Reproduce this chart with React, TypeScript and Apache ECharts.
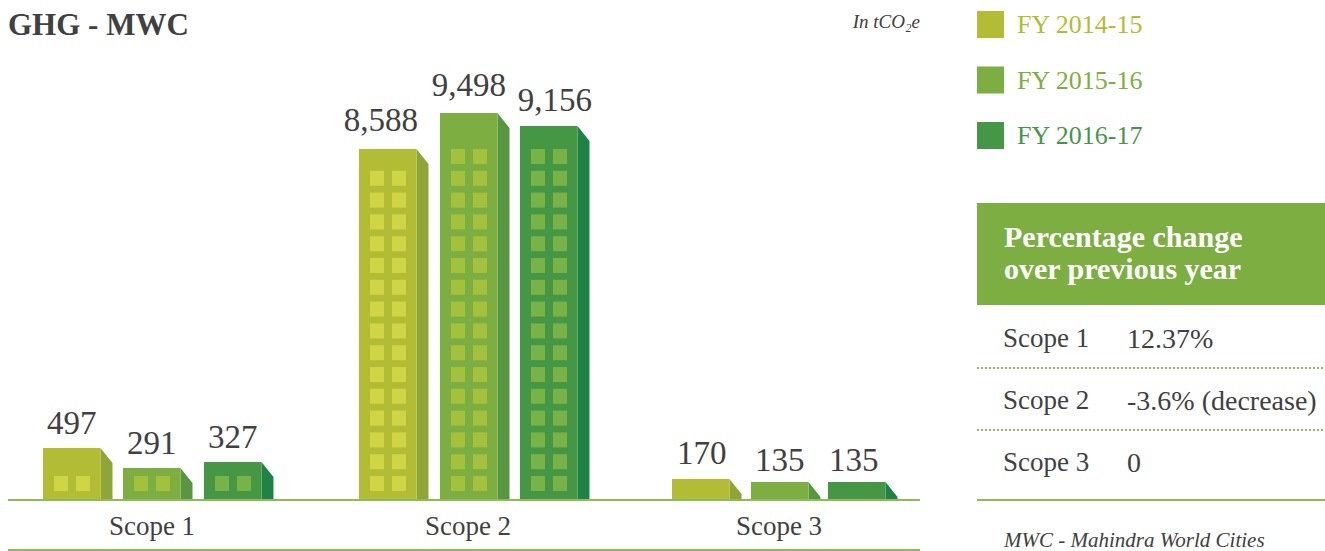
import React, { useEffect, useRef } from "react";
import * as echarts from "echarts";

const scopes = ["Scope 1", "Scope 2", "Scope 3"];
const years = ["FY 2014-15", "FY 2015-16", "FY 2016-17"];

// Printed values
const fy1415 = [497, 8588, 170];
const fy1516 = [291, 9498, 135];
const fy1617 = [327, 9156, 135];

// The reference's bars are not to scale for small values, so drawn heights are read separately
const fy1415Height = [52, 351, 21];
const fy1516Height = [32, 387, 18];
const fy1617Height = [38, 374, 18];

const changeScopes = ["Scope 1", "Scope 2", "Scope 3"];
const changeValues = ["12.37%", "-3.6% (decrease)", "0"];

const FONT = "'Liberation Serif', serif";
const INK = "#404041";
const faceColors = ["#B2BD35", "#7DAE42", "#459746"];
const sideColors = ["#8FA637", "#589641", "#1F8345"];
const windowColors = ["#CFD544", "#A4C13E", "#79B347"];

// Layout: bar left edge from the band centre, per scope and per year
const barOffsets = [
  [-109, -29, 52],
  [-106.5, -25.5, 54.5],
  [-107, -28, 49],
];
const labelShifts = [
  [[0, -25], [0, -25], [0, -25]],
  [[-7, -29], [0, -28], [6, -26]],
  [[1, -26], [0, -22], [-3, -22]],
];

const FACE_W = 57.5;
const SIDE_W = 12;
const SIDE_DROP = 15;
const WIN_W = 14;
const WIN_H = 15;
const WIN_PITCH = 21.8;

function makeRenderItem(yearIndex: number) {
  return (_params: any, api: any) => {
    const scope = api.value(0);
    const h = api.value(1);
    const value = api.value(2);
    const [cx, top] = api.coord([scope, h]);
    const [, base] = api.coord([scope, 0]);
    const left = cx + barOffsets[scope][yearIndex];
    const right = left + FACE_W;
    const children: any[] = [
      { type: "polygon", shape: { points: [[right, top], [right + SIDE_W, top + SIDE_DROP], [right + SIDE_W, base], [right, base]] }, style: { fill: sideColors[yearIndex] } },
      { type: "rect", shape: { x: left, y: top, width: FACE_W, height: base - top }, style: { fill: faceColors[yearIndex] } },
    ];
    const barH = base - top;
    const rows = barH < 25 ? 0 : Math.max(1, Math.floor((barH - 39) / WIN_PITCH) + 1);
    for (let r = 0; r < rows; r++) {
      const y = base - 24 - r * WIN_PITCH;
      [11, 33].forEach((dx) =>
        children.push({ type: "rect", shape: { x: left + dx, y, width: WIN_W, height: WIN_H }, style: { fill: windowColors[yearIndex] } })
      );
    }
    const [sx, sy] = labelShifts[scope][yearIndex];
    children.push({
      type: "text",
      x: left + FACE_W / 2 + sx,
      y: top + sy,
      style: { text: value.toLocaleString("en-US"), fill: INK, font: `33px ${FONT}`, align: "center", verticalAlign: "middle" },
    });
    return { type: "group", children };
  };
}

function seriesData(heights: number[], values: number[]) {
  return heights.map((h, i) => [i, h, values[i]]);
}

export default function App() {
  const ref = useRef<HTMLDivElement>(null);
  useEffect(() => {
    document.body.style.margin = "0";
    const chart = echarts.init(ref.current!, undefined, { renderer: "svg" });
    const heightSets = [fy1415Height, fy1516Height, fy1617Height];
    const valueSets = [fy1415, fy1516, fy1617];
    const text = (x: number, y: number, t: string, font: string, fill = INK, align = "left") => ({
      type: "text", x, y, style: { text: t, font, fill, align, verticalAlign: "middle" },
    });
    const line = (x1: number, x2: number, y: number, dotted = false, width = 2) => ({
      type: "line",
      shape: { x1, y1: y, x2, y2: y },
      style: { stroke: "#8DBB55", lineWidth: width, lineDash: dotted ? [2, 2] : undefined },
      z: 10,
    });
    chart.setOption({
      animation: false,
      backgroundColor: "#fff",
      title: {
        text: "GHG - MWC",
        left: 8,
        top: 9,
        padding: 0,
        textStyle: { fontFamily: FONT, fontSize: 31, fontWeight: "bold", color: INK },
      },
      grid: { left: -4.75, width: 940.5, top: 100, height: 400, outerBoundsMode: "none" },
      xAxis: {
        type: "category",
        data: scopes.map((value, i) => ({
          value,
          textStyle: { padding: i === 1 ? [0, 0, 0, 5] : 0 },
        })),
        axisLine: { show: false },
        axisTick: { show: false },
        axisLabel: { margin: 12, color: INK, fontFamily: FONT, fontSize: 27 },
      },
      yAxis: { type: "value", min: 0, max: 400, show: false, splitLine: { show: false } },
      legend: {
        orient: "vertical",
        left: 977,
        top: 11,
        padding: 0,
        itemWidth: 27,
        itemHeight: 27,
        itemGap: 28.5,
        icon: "rect",
        selectedMode: false,
        data: years.map((name, i) => ({
          name,
          textStyle: { color: faceColors[i], fontFamily: FONT, fontSize: 26, padding: [0, 0, 0, 8] },
        })),
      },
      series: years.map((name, i) => ({
        name,
        type: "custom",
        renderItem: makeRenderItem(i),
        data: seriesData(heightSets[i], valueSets[i]),
        encode: { x: 0, y: 1 },
        itemStyle: { color: faceColors[i] },
        clip: false,
        silent: true,
      })),
      graphic: {
        elements: [
          line(8, 920, 500),
          line(8, 920, 550),
          text(920, 21, "In tCO₂e", `italic 19px ${FONT}`, INK, "right"),
          { type: "rect", shape: { x: 977, y: 203, width: 348, height: 102 }, style: { fill: "#7DAE42" } },
          text(1004, 236, "Percentage change", `bold 30px ${FONT}`, "#fff"),
          text(1004, 268, "over previous year", `bold 30px ${FONT}`, "#fff"),
          ...changeScopes.map((s, i) => text(1003, 338 + i * 62, s, `27px ${FONT}`)),
          ...changeValues.map((s, i) => text(1127, 338 + i * 62, s, `28px ${FONT}`)),
          line(977, 1325, 368, true),
          line(977, 1325, 430, true),
          line(977, 1325, 500),
          text(1004, 540, "MWC - Mahindra World Cities", `italic 21px ${FONT}`),
        ],
      },
    });
    return () => chart.dispose();
  }, []);
  return <div ref={ref} style={{ position: "fixed", left: 0, top: 0, width: 1325, height: 551 }} />;
}
